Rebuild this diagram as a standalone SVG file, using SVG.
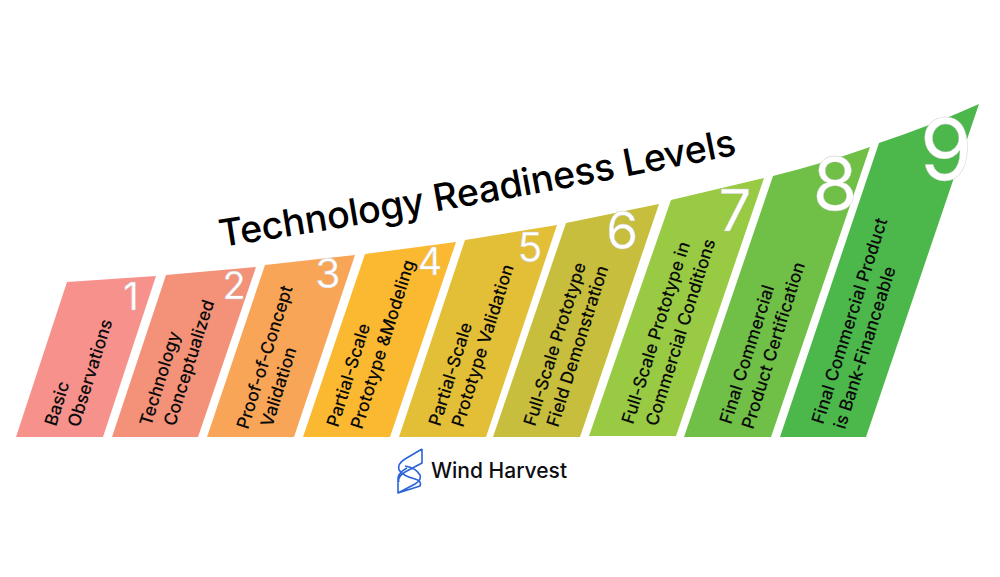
<svg xmlns="http://www.w3.org/2000/svg" width="1000" height="577" viewBox="0 0 1000 577">
<style>
text{font-family:"Inter","Liberation Sans",sans-serif}
.l{font-size:17.5px;font-weight:500;fill:#0a0a0a}
.d{fill:#fff;stroke:#c9c9c9;stroke-width:.4;text-anchor:middle;font-weight:400}
.t{font-size:37.5px;font-weight:500;fill:#000;letter-spacing:-.2px}
.w{font-size:21px;font-weight:500;fill:#0d0d12}
.m{fill:none;stroke:#2b63d9;stroke-width:1.6;stroke-linejoin:round}
</style>
<defs>
<path id="tp" d="M221 247 Q 480 207 755 151"/>
</defs>
<rect width="1000" height="577" fill="#fff"/>
<g id="step1"><path d="M16 437H103L156 276L67 282Z" fill="#F6918C"/><text class="l" transform="translate(56 427) rotate(-72.5)">Basic</text><text class="l" transform="translate(79 428) rotate(-72.5)">Observations</text><text class="d" x="131" y="310" font-size="38">1</text></g>
<g id="step2"><path d="M112 437H198L256 267L166 275Z" fill="#F49179"/><text class="l" transform="translate(151 427) rotate(-72.5)">Technology</text><text class="l" transform="translate(175 427) rotate(-72.5)">Conceptualized</text><text class="d" x="234" y="299" font-size="38">2</text></g>
<g id="step3"><path d="M207 437H294L355 255L265 265Z" fill="#F9A557"/><text class="l" transform="translate(248 430) rotate(-72.5)">Proof-of-Concept</text><text class="l" transform="translate(272 428) rotate(-72.5)">Validation</text><text class="d" x="328" y="288" font-size="41">3</text></g>
<g id="step4"><path d="M303 437H390L456 242L365 254Z" fill="#FBB931"/><text class="l" transform="translate(338 428) rotate(-72.5)">Partial-Scale</text><text class="l" transform="translate(362 430) rotate(-72.5)">Prototype &amp;Modeling</text><text class="d" x="430" y="275" font-size="38">4</text></g>
<g id="step5"><path d="M399 437H486L557 225L465 240Z" fill="#E2BF36"/><text class="l" transform="translate(440 427) rotate(-72.5)">Partial-Scale</text><text class="l" transform="translate(463 428) rotate(-72.5)">Prototype Validation</text><text class="d" x="530" y="262" font-size="41">5</text></g>
<g id="step6"><path d="M493 437H580L659 204L566 223Z" fill="#C6BE3C"/><text class="l" transform="translate(535 427) rotate(-72.5)">Full-Scale Prototype</text><text class="l" transform="translate(558 428) rotate(-72.5)">Field Demonstration</text><text class="d" x="622" y="249" font-size="52">6</text></g>
<g id="step7"><path d="M589 436H676L764 178L671 200Z" fill="#98CA44"/><text class="l" transform="translate(633 425) rotate(-72.5)">Full-Scale Prototype in</text><text class="l" transform="translate(657 427) rotate(-72.5)">Commercial Conditions</text><text class="d" x="735" y="231" font-size="58">7</text></g>
<g id="step8"><path d="M684 437H771L870 147Q825 163 773 176Z" fill="#70BF47"/><text class="l" transform="translate(731 425) rotate(-72.5)">Final Commercial</text><text class="l" transform="translate(753 430) rotate(-72.5)">Product Certification</text><text class="d" x="835" y="210" font-size="73">8</text></g>
<g id="step9"><path d="M780 437H866L979 104Q930 126 879 143Z" fill="#4CB84C"/><text class="l" transform="translate(823 425) rotate(-72.5)">Final Commercial Product</text><text class="l" transform="translate(845 430) rotate(-72.5)">is Bank-Financeable</text><text class="d" x="946" y="180" font-size="85">9</text></g>
<g id="title"><text class="t"><textPath href="#tp">Technology Readiness Levels</textPath></text></g>
<g id="logo">
<path class="m" d="M422 449V463L405 472Q397 477 399 482M422 449L405 459Q397 464 399 470Q403 476 415 479Q422 481 420 486L398 493V478Q399 472 407 468M398 493L415 484Q422 480 420 475Q416 468 405 466"/>
<text class="w" x="431" y="478">Wind Harvest</text>
</g>
<g id="connectors"/>
</svg>
